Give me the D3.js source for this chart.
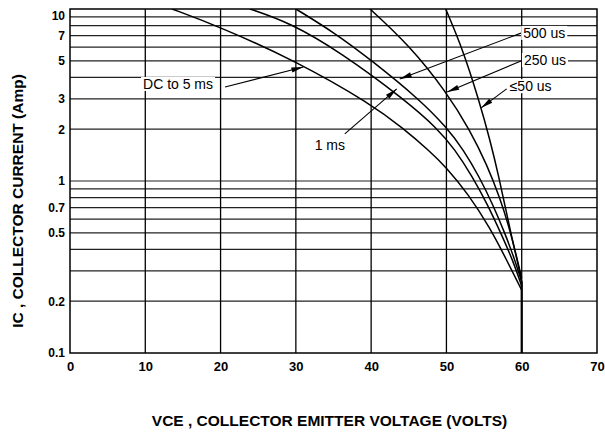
<!DOCTYPE html>
<html>
<head>
<meta charset="utf-8">
<script src="https://cdn.jsdelivr.net/npm/d3@7"></script>
<style>
  body { margin: 0; background: #fff; }
  svg { display: block; font-family: "Liberation Sans", Arial, sans-serif; }
</style>
</head>
<body>
<div id="chart-area"></div>
<script>
// Safe operating area curves
const xTicks = [0, 10, 20, 30, 40, 50, 60, 70];
const yTickLabels = [10, 7, 5, 3, 2, 1, 0.7, 0.5, 0.2, 0.1];
const yGrid = [0.2, 0.3, 0.4, 0.5, 0.6, 0.7, 0.8, 0.9, 1, 2, 3, 4, 5, 6, 7, 8, 9];

const dcV = [13.55, 19.8, 30.0, 40.0, 44.2, 47.8, 49.9, 52.9, 55.8, 58.0, 60];
const dcI = [10, 7.91, 4.99, 2.80, 2.03, 1.49, 1.21, 0.84, 0.533, 0.347, 0.232];

const ms1V = [23.9, 29.2, 35.9, 44.5, 48.75, 51.1, 53.4, 55.5, 57.4, 58.8, 60];
const ms1I = [10, 8.33, 5.62, 2.96, 2.03, 1.53, 1.07, 0.725, 0.479, 0.347, 0.245];

const us500V = [30.0, 35.2, 40.0, 46.5, 50.1, 52.3, 54.3, 56.2, 57.8, 59.0, 60];
const us500I = [10, 7.25, 5.05, 2.96, 2.03, 1.51, 1.07, 0.725, 0.492, 0.357, 0.259];

const us250V = [39.85, 45.0, 50.1, 53.1, 55.4, 57.1, 58.2, 59.1, 60];
const us250I = [10, 6.2, 3.25, 1.98, 1.24, 0.796, 0.562, 0.397, 0.273];

const us50V = [49.9, 52.2, 54.3, 55.8, 57.0, 57.9, 58.7, 59.4, 60];
const us50I = [10, 5.78, 2.96, 1.73, 1.04, 0.678, 0.466, 0.347, 0.259];

// voltage limit drops straight down at 60 V
const limitV = [60, 60];
const limitI = [0.26, 0.1];

// labels: text position and arrow (from -> tip), in volts / amps
const noteText = ["DC to 5 ms", "1 ms", "500 us", "250 us", "\u226450 us"];
const noteV = [9.7, 32.5, 60.2, 60.3, 58.4];
const noteI = [3.43, 1.51, 6.79, 4.72, 3.33];
const arrowFromV = [20.6, 36.5, 59.9, 59.9, 58.0];
const arrowFromI = [3.52, 1.88, 7.24, 4.99, 3.43];
const arrowToV = [31.0, 43.4, 43.8, 50.1, 54.6];
const arrowToI = [4.6, 3.43, 3.92, 3.29, 2.66];

document.addEventListener('DOMContentLoaded', function () {
    renderChart();
});

function renderChart() {
    const width = 605, height = 433;
    const left = 70, right = 597, top = 9, bottom = 353;

    const svg = d3.select("#chart-area")
        .append("svg")
        .attr("width", width)
        .attr("height", height);

    const x = d3.scaleLinear().domain([0, 70]).range([left, right]);
    const y = d3.scaleLog().domain([0.1, 10]).range([bottom, top]);

    const defs = svg.append("defs");
    defs.append("clipPath")
        .attr("id", "plot-clip")
        .append("rect")
        .attr("x", left).attr("y", top)
        .attr("width", right - left).attr("height", bottom - top);

    defs.append("marker")
        .attr("id", "arrow")
        .attr("viewBox", "0 -3 12 6")
        .attr("refX", 12)
        .attr("refY", 0)
        .attr("markerUnits", "userSpaceOnUse")
        .attr("markerWidth", 13)
        .attr("markerHeight", 6)
        .attr("orient", "auto")
        .append("path")
        .attr("d", "M0,-2.6L12,0L0,2.6Z")
        .attr("fill", "#000");

    // horizontal grid
    svg.append("g")
        .selectAll("line")
        .data(yGrid)
        .enter().append("line")
        .attr("x1", left).attr("x2", right)
        .attr("y1", d => y(d)).attr("y2", d => y(d))
        .attr("stroke", "#222")
        .attr("stroke-width", 1.2);

    // vertical grid
    svg.append("g")
        .selectAll("line")
        .data(xTicks.slice(1, -1))
        .enter().append("line")
        .attr("x1", d => x(d)).attr("x2", d => x(d))
        .attr("y1", top).attr("y2", bottom)
        .attr("stroke", "#000")
        .attr("stroke-width", 1.3);

    svg.append("rect")
        .attr("x", left).attr("y", top)
        .attr("width", right - left).attr("height", bottom - top)
        .attr("fill", "none")
        .attr("stroke", "#000")
        .attr("stroke-width", 1.5);

    // axes (labels only)
    const xAxis = svg.append("g")
        .attr("transform", `translate(0,${bottom})`)
        .call(d3.axisBottom(x).tickValues(xTicks).tickSize(0).tickPadding(9).tickFormat(d3.format("d")));
    xAxis.select(".domain").remove();
    xAxis.selectAll("text")
        .attr("font-size", 13).attr("font-weight", "bold")
        .attr("font-family", "Liberation Sans, Arial, sans-serif").attr("fill", "#000");

    const yAxis = svg.append("g")
        .attr("transform", `translate(${left},0)`)
        .call(d3.axisLeft(y).tickValues(yTickLabels).tickSize(0).tickPadding(5).tickFormat(d => String(d)));
    yAxis.select(".domain").remove();
    yAxis.selectAll("text")
        .attr("font-size", 12).attr("font-weight", "bold")
        .attr("font-family", "Liberation Sans, Arial, sans-serif").attr("fill", "#000");
    // top label sits a bit lower than the frame edge
    yAxis.selectAll(".tick").filter(d => d === 10).select("text").attr("dy", "0.85em");

    // curves
    const series = [[dcV, dcI], [ms1V, ms1I], [us500V, us500I], [us250V, us250I], [us50V, us50I]];
    const line = d3.line()
        .x(d => x(d[0]))
        .y(d => y(d[1]))
        .curve(d3.curveBasis);

    const plot = svg.append("g").attr("clip-path", "url(#plot-clip)");
    plot.selectAll("path.soa")
        .data(series.map(s => s[0].map((v, i) => [v, s[1][i]])))
        .enter().append("path")
        .attr("class", "soa")
        .attr("d", line)
        .attr("fill", "none")
        .attr("stroke", "#000")
        .attr("stroke-width", 1.5);

    plot.append("path")
        .attr("d", d3.line().x(d => x(d[0])).y(d => y(d[1]))(limitV.map((v, i) => [v, limitI[i]])))
        .attr("fill", "none")
        .attr("stroke", "#000")
        .attr("stroke-width", 2.2);

    // labels with arrows
    const notes = svg.append("g");
    noteText.forEach((t, i) => {
        notes.append("line")
            .attr("x1", x(arrowFromV[i])).attr("y1", y(arrowFromI[i]))
            .attr("x2", x(arrowToV[i])).attr("y2", y(arrowToI[i]))
            .attr("stroke", "#000")
            .attr("stroke-width", 1.1)
            .attr("marker-end", "url(#arrow)");
        const bg = notes.append("rect").attr("fill", "#fff");
        const txt = notes.append("text")
            .attr("x", x(noteV[i]))
            .attr("y", y(noteI[i]))
            .attr("font-size", 14)
            .attr("fill", "#000")
            .text(t);
        const b = txt.node().getBBox();
        bg.attr("x", b.x - 2).attr("y", b.y + 1)
            .attr("width", b.width + 4).attr("height", b.height - 2);
    });

    // axis titles
    svg.append("text")
        .attr("x", (left + right) / 2 - 4)
        .attr("y", 426)
        .attr("text-anchor", "middle")
        .attr("font-size", 15.5)
        .attr("font-weight", "bold")
        .text("VCE , COLLECTOR EMITTER VOLTAGE (VOLTS)");

    svg.append("text")
        .attr("transform", "translate(23,201) rotate(-90)")
        .attr("text-anchor", "middle")
        .attr("font-size", 15.5)
        .attr("font-weight", "bold")
        .text("IC , COLLECTOR CURRENT (Amp)");
}
</script>
</body>
</html>
